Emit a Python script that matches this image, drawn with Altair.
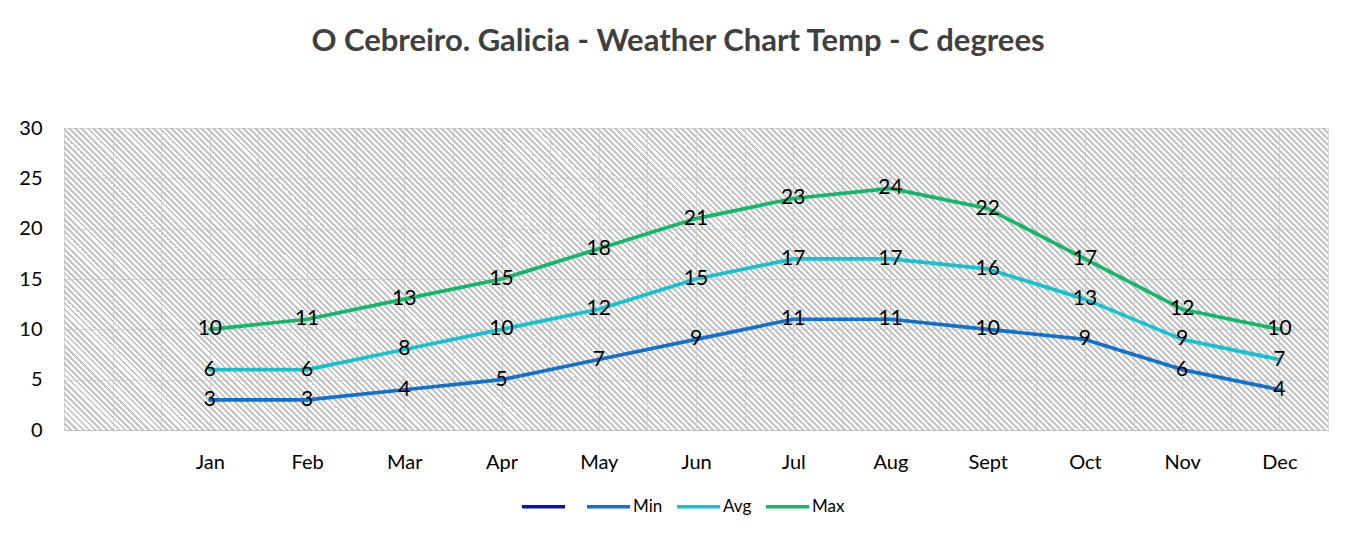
import json
import altair as alt
import pandas as pd

months = ["Jan", "Feb", "Mar", "Apr", "May", "Jun", "Jul", "Aug", "Sept", "Oct", "Nov", "Dec"]
min_vals = [3, 3, 4, 5, 7, 9, 11, 11, 10, 9, 6, 4]
avg_vals = [6, 6, 8, 10, 12, 15, 17, 17, 16, 13, 9, 7]
max_vals = [10, 11, 13, 15, 18, 21, 23, 24, 22, 17, 12, 10]
series_names = [" ", "Min", "Avg", "Max"]
series_colors = ["#0A12AE", "#1271CE", "#14C3D2", "#12B86A"]

rows = []
for name, vals in (("Min", min_vals), ("Avg", avg_vals), ("Max", max_vals)):
    for i, (m, v) in enumerate(zip(months, vals)):
        rows.append({"series": name, "idx": i + 1, "month": m, "value": v})
df = pd.DataFrame(rows)

W, H = 1264, 302
FONT = "Lato"

# hatch pattern as a striped linear gradient (gray stripes on transparent)
a = H / W
s = (1 + a) / (1 + a * a)
period = 6
N = (W + H) // period
frac = 0.34
stripe = "#c4c4c4"
clear = "rgba(255,255,255,0)"
stops = []
for k in range(N):
    o0 = round(k / N, 7)
    o1 = round((k + frac) / N, 7)
    o2 = round((k + 1) / N, 7)
    stops += [
        {"offset": o0, "color": stripe},
        {"offset": o1, "color": stripe},
        {"offset": o1, "color": clear},
        {"offset": o2, "color": clear},
    ]
hatch = {"gradient": "linear", "x1": 0, "y1": 1, "x2": s, "y2": 1 - s * a, "stops": stops}

x_ticks = [i * 0.5 for i in range(-1, 26)]
month_js = json.dumps(months).replace('"', "'")
label_expr = (
    f"datum.value >= 1 && datum.value <= 12 && datum.value == floor(datum.value) "
    f"? {month_js}[datum.value - 1] : ''"
)

x_enc = alt.X(
    "idx:Q",
    scale=alt.Scale(domain=[-0.5, 12.5], nice=False, zero=False),
    axis=alt.Axis(
        values=x_ticks,
        labelExpr=label_expr,
        title=None,
        grid=True,
        gridColor="#d9d9d9",
        gridWidth=1,
        ticks=False,
        domain=True,
        domainColor="#bfbfbf",
        domainWidth=1,
        labelFont=FONT,
        labelFontSize=20,
        labelColor="#000000",
        labelPadding=22,
        labelOverlap=False,
        labelFlush=False,
    ),
)
y_enc = alt.Y(
    "value:Q",
    scale=alt.Scale(domain=[0, 30], nice=False),
    axis=alt.Axis(
        values=[0, 5, 10, 15, 20, 25, 30],
        title=None,
        grid=True,
        gridColor="#d9d9d9",
        gridWidth=1,
        ticks=False,
        domain=False,
        labelFont=FONT,
        labelFontSize=20,
        labelColor="#000000",
        labelPadding=22,
    ),
)

bg = alt.Chart(alt.Data(values=[{}])).mark_rect(fill=hatch, strokeWidth=0).encode(
    x=alt.value(0), x2=alt.value(W), y=alt.value(0), y2=alt.value(H)
)

base = alt.Chart(df)
lines = base.mark_line(strokeWidth=3.7, strokeCap="round", strokeJoin="round").encode(
    x=x_enc,
    y=y_enc,
    color=alt.Color(
        "series:N",
        scale=alt.Scale(domain=series_names, range=series_colors),
        legend=alt.Legend(
            title=None,
            orient="none",
            legendX=456,
            legendY=355,
            direction="horizontal",
            symbolType="stroke",
            symbolSize=1850,
            symbolStrokeWidth=3.7,
            labelFont=FONT,
            labelFontSize=17,
            labelColor="#000000",
            labelOffset=1,
            columnPadding=6,
        ),
    ),
    detail="series:N",
)
labels = base.mark_text(font=FONT, fontSize=21, color="#000000", align="center", baseline="middle").encode(
    x="idx:Q", y="value:Q", text="value:Q"
)

chart = (
    alt.layer(bg, lines, labels)
    .properties(
        width=W,
        height=H,
        autosize=alt.AutoSizeParams(type="none"),
        padding={"left": 56, "top": 120, "right": 20, "bottom": 101},
        title=alt.TitleParams(
            text="O Cebreiro. Galicia - Weather Chart Temp - C degrees",
            font=FONT,
            fontSize=31,
            fontWeight="bold",
            color="#404040",
            anchor="middle",
            frame="group",
            dx=-18,
            offset=60,
        ),
    )
    .configure(background="#ffffff")
    .configure_view(stroke=None, fill=None)
)

chart.save("out.html", embed_options={"renderer": "svg", "actions": False})
